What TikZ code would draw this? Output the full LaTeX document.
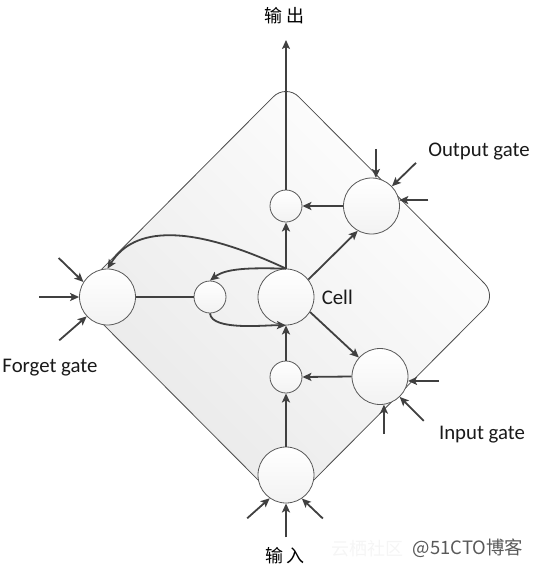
\documentclass[tikz,border=0pt]{standalone}
\usepackage{fontspec}
\setmainfont{Carlito}
\newfontfamily\cjk{Noto Sans CJK SC}
\usetikzlibrary{positioning,arrows.meta}

\begin{document}
\begin{tikzpicture}[x=0.5pt, y=-0.5pt, font=\fontsize{10.4}{12}\selectfont]

	\tikzstyle{gate} = [circle, draw=black!65, line width=0.4pt, minimum size=28pt, inner sep=0pt, top color=white, bottom color=black!5]
	\tikzstyle{mult} = [gate, minimum size=16pt]
	\tikzstyle{flow} = [-{Stealth[length=4.5pt, width=4pt, inset=1pt]}, line width=0.9pt, draw=black!75]
	\tikzstyle{link} = [line width=0.9pt, draw=black!75]
	\tikzstyle{txt} = [inner sep=0pt, text=black!90]
	\tikzstyle{cn} = [inner sep=0pt, font=\cjk\fontsize{9}{10}\selectfont]

	\useasboundingbox (0,0) rectangle (532,569);

	% memory block
	\draw[draw=black!70, line width=0.4pt, rounded corners=9pt, top color=white, bottom color=black!9, shading angle=-45] (286,84) -- (497,296) -- (286,508) -- (75,296) -- cycle;

	\node[gate] (forget) at (107.5,297) {};
	\node[mult] (keep) at (210,297) {};
	\node[gate] (cell) at (286,297) {};
	\node[mult] (outmul) at (286,206) {};
	\node[gate] (outgate) at (371.5,206) {};
	\node[mult] (inmul) at (286,377) {};
	\node[gate] (ingate) at (380,376.5) {};
	\node[gate] (input) at (286,475) {};

	\node[cn] (out_lbl) at (284.5,16) {输\hspace{2pt}出};
	\node[cn] (in_lbl) at (285,556) {输\hspace{2pt}入};
	\node[txt] (outgate_lbl) at (479,152) {Output gate};
	\node[txt, right=3.5pt of cell] (cell_lbl) {Cell};
	\node[txt] (forget_lbl) at (50,367.5) {Forget gate};
	\node[txt] (ingate_lbl) at (482,435) {Input gate};

	\node[cn, text=black!4, anchor=east] (wm_a) at (404,549) {云栖社区};
	\node[cn, text=black!65, font=\cjk\fontsize{9.2}{10}\selectfont] (wm_b) at (468,548) {@51CTO博客};

	\coordinate (top_end) at (286,40);

	% main path
	\draw[flow] (input.north) -- (inmul.south);
	\draw[flow] (inmul.north) -- (cell.south);
	\draw[flow] (cell.north) -- (outmul.south);
	\draw[flow] (outmul.north) -- (top_end);
	\draw[flow] (ingate.west) -- (inmul.east);
	\draw[flow] (outgate.west) -- (outmul.east);
	\draw[flow] (cell.38) -- (outgate.241);
	\draw[flow] (cell.328) -- (ingate.138);

	% recurrence
	\draw[link] (forget.east) -- (keep.west);
	\draw[flow] (cell.north) to[out=179, in=38, out distance=14pt, in distance=11pt] (keep.north);
	\draw[flow] (keep.south) to[out=-85, in=178, looseness=0.6] (cell.south);
	\draw[flow] (cell.north) to[out=155, in=58, out distance=53pt, in distance=25pt] (forget.north);

	% gate inputs
	\draw[flow] (forget.180) ++(-40,0) -- (forget.180);
	\draw[flow] (forget.148) ++(-24.8,-24) -- (forget.148);
	\draw[flow] (forget.223) ++(-27.5,24) -- (forget.223);

	\draw[flow] (outgate.81) ++(0,-29) -- (outgate.81);
	\draw[flow] (outgate.44) ++(24,-23.4) -- (outgate.44);
	\draw[flow] (outgate.12) ++(29,0) -- (outgate.12);

	\draw[flow] (ingate.351) ++(31,0) -- (ingate.351);
	\draw[flow] (ingate.314) ++(24,24) -- (ingate.314);
	\draw[flow] (ingate.278) ++(0,29.5) -- (ingate.278);

	\draw[flow] (input.south) ++(0,34) -- (input.south);
	\draw[flow] (input.235) ++(-22.5,20) -- (input.235);
	\draw[flow] (input.304) ++(21,20) -- (input.304);

\end{tikzpicture}
\end{document}
